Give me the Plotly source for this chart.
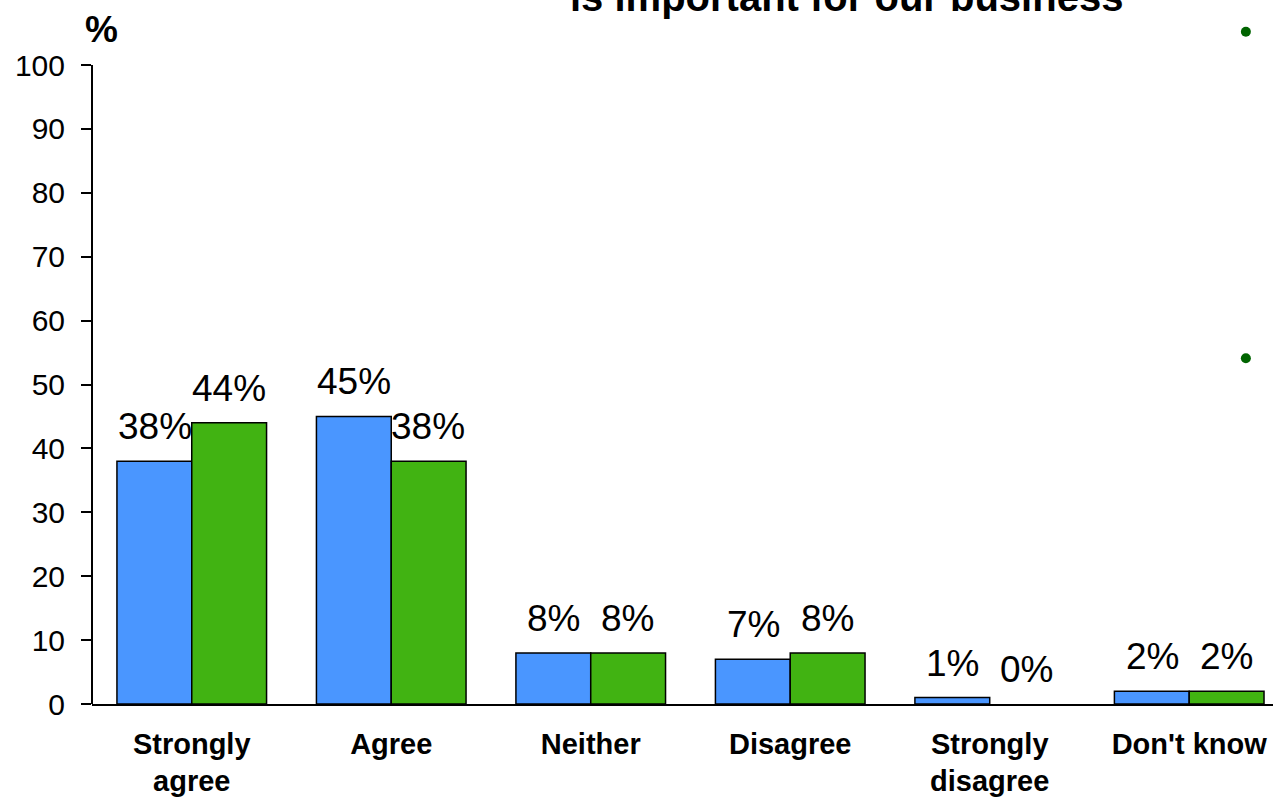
import plotly.graph_objects as go

categories = ["Strongly<br>agree", "Agree", "Neither", "Disagree", "Strongly<br>disagree", "Don't know"]
series_a = [38, 45, 8, 7, 1, 2]
series_b = [44, 38, 8, 8, 0, 2]
labels_a = ["38%", "45%", "8%", "7%", "1%", "2%"]
labels_b = ["44%", "38%", "8%", "8%", "0%", "2%"]
dots_x = [5.284, 5.284]
dots_y = [105.2, 54.1]
y_ticks = [0, 10, 20, 30, 40, 50, 60, 70, 80, 90, 100]

FONT = "Liberation Sans, Arial, sans-serif"
BLUE = "#4a96ff"
GREEN = "#41b312"

W, H = 1273, 798
ML, MB = 92, 94
PLOT_H = H - MB  # plot area spans to top of page
Y_TOP = 100 * PLOT_H / 639.0  # value 100 sits at pixel 65


def py(px):
    return (PLOT_H - px) / PLOT_H


def pxx(px):
    return (px - ML) / (W - ML)


def outline_widths(vals):
    return [0 if v == 0 else 1.5 for v in vals]


fig = go.Figure()
fig.add_trace(go.Bar(x=list(range(len(categories))), y=series_a, marker=dict(color=BLUE, line=dict(color="black", width=outline_widths(series_a))), showlegend=False))
fig.add_trace(go.Bar(x=list(range(len(categories))), y=series_b, marker=dict(color=GREEN, line=dict(color="black", width=outline_widths(series_b))), showlegend=False))
fig.add_trace(go.Scatter(x=dots_x, y=dots_y, mode="markers", marker=dict(color="#006400", size=10), cliponaxis=False, showlegend=False))

annotations = []
for i, (va, vb, la, lb) in enumerate(zip(series_a, series_b, labels_a, labels_b)):
    annotations.append(dict(x=i, y=va, xref="x", yref="y", text=la, showarrow=False, xshift=-37, yanchor="bottom", yshift=12, font=dict(size=37, color="black", family=FONT)))
    annotations.append(dict(x=i, y=vb, xref="x", yref="y", text=lb, showarrow=False, xshift=37, yanchor="bottom", yshift=12, font=dict(size=37, color="black", family=FONT)))

annotations.append(dict(xref="paper", yref="paper", x=pxx(101), y=py(30), xanchor="center", yanchor="middle", text="<b>%</b>", showarrow=False, font=dict(size=37, color="black", family=FONT)))
annotations.append(dict(xref="paper", yref="paper", x=pxx(846), y=py(21), xanchor="center", yanchor="bottom", text="<b>is important for our business</b>", showarrow=False, font=dict(size=40, color="black", family=FONT)))

shapes = [dict(type="line", xref="paper", yref="y", x0=0, x1=0, y0=0, y1=100, line=dict(color="black", width=2))]

fig.update_layout(
    width=W, height=H,
    margin=dict(l=ML, r=0, t=0, b=MB),
    paper_bgcolor="white", plot_bgcolor="white",
    barmode="group", bargap=0.25, bargroupgap=0,
    font=dict(family=FONT, color="black"),
    annotations=annotations,
    shapes=shapes,
    xaxis=dict(range=[-0.5, 5.42], tickmode="array", tickvals=list(range(len(categories))), ticktext=["<b>" + c + "</b>" for c in categories],
               tickfont=dict(size=29, family=FONT, color="black"), showline=True, linecolor="black", linewidth=1.5,
               ticks="", showgrid=False, zeroline=False, ticklabelstandoff=13, automargin=False),
    yaxis=dict(range=[0, Y_TOP], tickmode="array", tickvals=y_ticks, tickfont=dict(size=30, family=FONT, color="black"),
               showline=False, ticks="outside", ticklen=10, tickwidth=1.5, tickcolor="black",
               showgrid=False, zeroline=False, ticklabelstandoff=10, automargin=False),
)

fig.write_html("out.html")
